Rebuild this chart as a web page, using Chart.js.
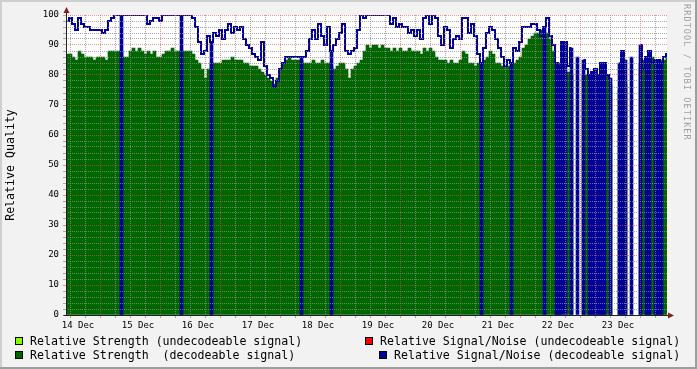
<!DOCTYPE html>
<html>
<head>
<meta charset="utf-8">
<script src="https://cdn.jsdelivr.net/npm/chart.js@4/dist/chart.umd.min.js"></script>
<style>
html, body { margin: 0; padding: 0; background: #f2f2f2; }
#wrap { position: relative; width: 697px; height: 369px; overflow: hidden; }
.leg { position: absolute; font: 11.6px "DejaVu Sans Mono"; color: #000; white-space: pre; line-height: 14px; }
.box { position: absolute; width: 8px; height: 8px; box-sizing: border-box; border: 1px solid #000; }
#mark { position: absolute; left: 682px; top: 4px; writing-mode: vertical-rl; font: 8.5px "DejaVu Sans Mono";
        letter-spacing: 1.1px; color: #a0a0a0; line-height: 10px; }
</style>
</head>
<body>
<div id="wrap">
  <canvas id="quality" width="697" height="369"></canvas>

  <span class="box" style="left:15px;top:337px;background:#80ff00"></span>
  <span class="leg" style="left:30px;top:334px">Relative Strength (undecodeable signal)</span>
  <span class="box" style="left:15px;top:351px;background:#006600"></span>
  <span class="leg" style="left:30px;top:348px">Relative Strength  (decodeable signal)</span>

  <span class="box" style="left:365px;top:337px;background:#ff0000"></span>
  <span class="leg" style="left:380px;top:334px">Relative Signal/Noise (undecodeable signal)</span>
  <span class="box" style="left:379px;top:351px;background:#000099"></span>
  <span class="leg" style="left:394px;top:348px">Relative Signal/Noise (decodeable signal)</span>

  <div id="mark">RRDTOOL / TOBI OETIKER</div>
</div>

<script>
// hours counted from 14 Dec 00:00, one sample every 72 minutes
const firstSampleHour = 7.2;
const sampleHours = 1.2;
const lastHour = 247.6;

const dayLabels = ['14 Dec', '15 Dec', '16 Dec', '17 Dec', '18 Dec',
                   '19 Dec', '20 Dec', '21 Dec', '22 Dec', '23 Dec'];

// Relative Strength (decodeable signal)
const strength = [
  87, 87, 86, 85, 88, 87, 86, 86, 86, 85,
  86, 86, 86, 85, 88, 88, 88, 88, 88, 86,
  86, 88, 89, 88, 89, 88, 87, 88, 87, 88,
  86, 86, 87, 88, 88, 89, 88, 88, 88, 88,
  88, 88, 87, 85, 84, 82, 79, 82, 84, 84,
  84, 84, 85, 85, 85, 86, 85, 85, 85, 84,
  84, 83, 83, 83, 82, 81, 80, 79, 78, 77,
  79, 82, 84, 85, 86, 85, 85, 85, 85, 84,
  84, 84, 85, 84, 84, 85, 84, 84, 83, 82,
  83, 84, 84, 82, 79, 82, 83, 84, 85, 88,
  90, 89, 90, 90, 89, 90, 89, 89, 88, 89,
  88, 89, 88, 88, 89, 88, 88, 88, 87, 89,
  88, 89, 88, 86, 85, 85, 85, 84, 85, 84,
  84, 85, 88, 87, 84, 84, 83, 84, 83, 85,
  86, 88, 87, 84, 84, 83, 83, 83, 83, 84,
  85, 86, 89, 90, 92, 93, 94, 94, 95, 94,
  94, 92, 88, 84, 84, null, null, 81, 80, null,
  null, null, 80, 80, 77, 76, 78, 79, 80, 80,
  80, 77, null, null, 75, 78, 77, null, null, null,
  null, 84, 85, 86, 86, 86, 84, 84, 85, 85, 86
];

// Relative Signal/Noise (decodeable signal)
const signalNoise = [
  98, 99, 97, 95, 99, 97, 96, 96, 95, 95,
  95, 95, 94, 95, 98, 99, 100, 100, 100, 100,
  100, 100, 100, 100, 100, 100, 100, 97, 98, 99,
  99, 98, 100, 100, 100, 100, 100, 100, 100, 100,
  100, 100, 99, 96, 91, 87, 88, 93, 91, 94,
  93, 95, 92, 95, 97, 94, 96, 95, 96, 92,
  90, 89, 87, 86, 85, 91, 83, 80, 79, 76,
  78, 82, 84, 86, 86, 86, 86, 86, 86, 86,
  88, 92, 95, 92, 97, 93, 90, 96, 88, 90,
  92, 94, 97, 88, 87, 88, 89, 95, 100, 99,
  100, 100, 100, 100, 100, 100, 100, 100, 97, 99,
  96, 97, 96, 96, 94, 95, 93, 95, 92, 99,
  100, 97, 100, 99, 93, 90, 96, 95, 89, 92,
  93, 92, 99, 99, 94, 97, 93, 87, 84, 89,
  94, 96, 95, 92, 89, 86, 83, 85, 84, 89,
  88, 91, 96, 96, 96, 97, 97, 95, 93, 96,
  99, 93, 90, 84, 83, 91, 91, 83, 89, null,
  86, null, 85, 82, 80, 81, 82, 80, 84, 84,
  80, 79, null, null, 84, 88, 85, null, 86, null,
  null, 90, 82, 86, 88, 84, 85, 85, 84, 86, 87
];

// samples where the S/N trace falls to zero inside the step
const signalNoiseZeroSamples = [18, 38, 48, 78, 88, 138, 148, 159, 163, 164, 165, 166,
  168, 170, 172, 174, 175, 176, 177, 178, 179, 181, 184, 185, 186, 188,
  191, 193, 194, 196, 197, 198];

const GREEN = '#006600';
const BLUE = '#000099';
const GRID = 'rgba(143,143,143,0.75)';
const MGRID = 'rgba(222,79,79,0.6)';
const AXIS = '#212121';
const ARROW = '#801f1f';
const tickFont = { family: 'DejaVu Sans Mono', size: 9 };

const sampleTime = i => firstSampleHour + sampleHours * (i + 0.5);
const strengthPts = strength.map((v, i) => ({ x: sampleTime(i), y: v }));
const snPts = signalNoise.map((v, i) => ({ x: sampleTime(i), y: v }));
const snDrops = signalNoise.map((v, i) => ({
  x: sampleTime(i),
  y: signalNoiseZeroSamples.includes(i) ? v : null
}));

const rrdFrame = {
  id: 'rrdFrame',
  beforeDraw(chart) {
    const { ctx, chartArea: a, width, height } = chart;
    ctx.save();
    ctx.fillStyle = '#f2f2f2';
    ctx.fillRect(0, 0, width, height);
    ctx.fillStyle = '#ffffff';
    ctx.fillRect(a.left, a.top, a.right - a.left, a.bottom - a.top);
    ctx.fillStyle = '#cfcfcf';
    ctx.fillRect(0, 0, width, 2);
    ctx.fillRect(0, 0, 2, height);
    ctx.fillStyle = '#9e9e9e';
    ctx.fillRect(0, height - 2, width, 2);
    ctx.fillRect(width - 2, 0, 2, height);
    ctx.restore();
  },
  afterDraw(chart) {
    const { ctx, chartArea: a } = chart;
    const x0 = Math.round(a.left) + 0.5, y0 = Math.round(a.bottom) + 0.5;
    ctx.save();
    ctx.strokeStyle = AXIS;
    ctx.lineWidth = 1;
    ctx.beginPath();
    ctx.moveTo(x0, y0);
    ctx.lineTo(x0, a.top - 2);
    ctx.moveTo(x0 - 3, y0);
    ctx.lineTo(a.right + 1, y0);
    ctx.stroke();
    ctx.fillStyle = ARROW;
    ctx.beginPath();
    ctx.moveTo(x0 - 3, a.top - 2);
    ctx.lineTo(x0 + 3, a.top - 2);
    ctx.lineTo(x0, a.top - 8);
    ctx.closePath();
    ctx.fill();
    ctx.beginPath();
    ctx.moveTo(a.right + 1, y0 - 3);
    ctx.lineTo(a.right + 1, y0 + 3);
    ctx.lineTo(a.right + 7, y0);
    ctx.closePath();
    ctx.fill();
    ctx.restore();
  }
};

new Chart(document.getElementById('quality'), {
  type: 'line',
  data: {
    datasets: [
      {
        type: 'line',
        label: 'Relative Signal/Noise (decodeable signal)',
        data: snPts,
        borderColor: BLUE,
        borderWidth: 2,
        stepped: 'middle',
        pointRadius: 0,
        fill: false,
        spanGaps: false,
        order: 1
      },
      {
        type: 'bar',
        label: 'S/N drops',
        data: snDrops,
        backgroundColor: BLUE,
        borderWidth: 0,
        barPercentage: 1,
        categoryPercentage: 1,
        grouped: false,
        order: 2
      },
      {
        type: 'bar',
        label: 'Relative Strength  (decodeable signal)',
        data: strengthPts,
        backgroundColor: GREEN,
        borderWidth: 0,
        barPercentage: 1,
        categoryPercentage: 1,
        grouped: false,
        order: 3
      }
    ]
  },
  options: {
    responsive: false,
    animation: false,
    devicePixelRatio: 1,
    layout: { padding: { left: 0, right: 30, top: 15, bottom: 0 } },
    plugins: { legend: { display: false }, tooltip: { enabled: false } },
    scales: {
      x: {
        type: 'linear',
        min: firstSampleHour,
        max: lastHour,
        offset: false,
        afterBuildTicks: s => {
          s.ticks = [];
          for (let h = 12; h < lastHour; h += 6) s.ticks.push({ value: h });
        },
        afterFit: s => { s.height = 54; },
        ticks: {
          autoSkip: false,
          maxRotation: 0,
          padding: 2,
          color: '#000',
          font: tickFont,
          callback: v => ((v - 12) % 24 === 0 ? dayLabels[(v - 12) / 24] : '')
        },
        grid: {
          z: 1,
          lineWidth: 1,
          tickLength: 3,
          color: c => (c.tick && c.tick.value % 24 === 0 ? MGRID : GRID),
          tickColor: c => (c.tick && c.tick.value % 24 === 0 ? MGRID : GRID)
        },
        border: { display: false, dash: [1, 1] }
      },
      y: {
        min: 0,
        max: 100,
        afterBuildTicks: s => {
          s.ticks = [];
          for (let v = 0; v <= 100; v += 2) s.ticks.push({ value: v });
        },
        afterFit: s => { s.width = 66; },
        ticks: {
          autoSkip: false,
          padding: 4,
          color: '#000',
          font: tickFont,
          callback: v => (v % 10 === 0 ? String(v) : '')
        },
        title: {
          display: true,
          text: 'Relative Quality',
          color: '#000',
          font: { family: 'DejaVu Sans Mono', size: 11.6 },
          padding: { top: 4, bottom: 0 }
        },
        grid: {
          z: 1,
          lineWidth: 1,
          tickLength: 3,
          color: c => (c.tick && c.tick.value % 10 === 0 ? MGRID : GRID),
          tickColor: c => (c.tick && c.tick.value % 10 === 0 ? MGRID : GRID)
        },
        border: { display: false, dash: [1, 1] }
      }
    }
  },
  plugins: [rrdFrame]
});
</script>
</body>
</html>
